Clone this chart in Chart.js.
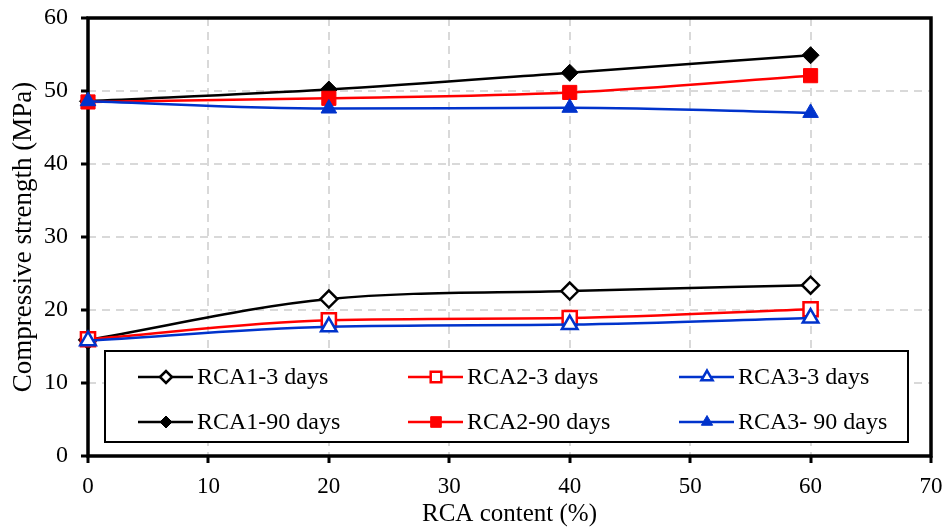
<!DOCTYPE html>
<html>
<head>
<meta charset="utf-8">
<script src="https://cdn.jsdelivr.net/npm/chart.js@4"></script>
<style>
  html, body { margin: 0; padding: 0; background: #fff; }
  #wrap { width: 946px; height: 529px; }
</style>
</head>
<body>
<div id="wrap"><canvas id="strength"></canvas></div>
<script>
  // RCA content (%) and compressive strength (MPa)
  const rcaContent = [0, 20, 40, 60];
  const rca1Day3  = [15.9, 21.5, 22.6, 23.4];
  const rca2Day3  = [16.0, 18.6, 18.9, 20.1];
  const rca3Day3  = [15.8, 17.7, 18.0, 18.9];
  const rca1Day90 = [48.6, 50.2, 52.5, 54.9];
  const rca2Day90 = [48.5, 49.0, 49.8, 52.1];
  const rca3Day90 = [48.6, 47.6, 47.7, 47.0];
  const xTicks = [0, 10, 20, 30, 40, 50, 60, 70];
  const yTicks = [0, 10, 20, 30, 40, 50, 60];

  const BLUE = '#0033cc';
  const FONT = "'Liberation Serif', 'Times New Roman', serif";

  function pts(vals) {
    return vals.map((v, i) => ({ x: rcaContent[i], y: v }));
  }

  function series(label, vals, color, style, open, radius, legendRadius, order) {
    return {
      label: label,
      data: pts(vals),
      order: order,
      borderColor: color,
      backgroundColor: open ? '#fff' : color,
      pointBackgroundColor: open ? '#fff' : color,
      pointBorderColor: color,
      pointStyle: style,
      pointRadius: radius,
      pointBorderWidth: open ? 2.5 : 1,
      legendRadius: legendRadius,
      borderWidth: 2.5,
      showLine: true,
      clip: false,
      cubicInterpolationMode: 'monotone'
    };
  }

  // legend: 3 columns x 2 rows in a white box inside the plot
  const boxLegend = {
    id: 'boxLegend',
    afterDraw(chart) {
      const ctx = chart.ctx;
      const x0 = 105, y0 = 351, w = 803, h = 91;
      ctx.save();
      ctx.fillStyle = '#fff';
      ctx.fillRect(x0, y0, w, h);
      ctx.strokeStyle = '#000';
      ctx.lineWidth = 2;
      ctx.strokeRect(x0, y0, w, h);
      const colX = [138, 408, 679];
      const rowY = [377, 422];
      chart.data.datasets.forEach((ds, i) => {
        const cx = colX[i % 3], cy = rowY[Math.floor(i / 3)];
        ctx.strokeStyle = ds.borderColor;
        ctx.lineWidth = 2.5;
        ctx.beginPath();
        ctx.moveTo(cx, cy);
        ctx.lineTo(cx + 55, cy);
        ctx.stroke();
        ctx.fillStyle = ds.pointBackgroundColor;
        ctx.strokeStyle = ds.pointBorderColor;
        ctx.lineWidth = ds.pointBorderWidth;
        Chart.helpers.drawPoint(ctx, {
          pointStyle: ds.pointStyle,
          radius: ds.legendRadius,
          rotation: 0,
          borderWidth: ds.pointBorderWidth
        }, cx + 28, cy);
        ctx.fillStyle = '#000';
        ctx.font = '24px ' + FONT;
        ctx.textBaseline = 'middle';
        ctx.textAlign = 'left';
        ctx.fillText(ds.label, cx + 59, cy + 1);
      });
      ctx.restore();
    }
  };

  // black frame round the plot area, under the markers
  const plotFrame = {
    id: 'plotFrame',
    beforeDatasetsDraw(chart) {
      const a = chart.chartArea;
      const ctx = chart.ctx;
      ctx.save();
      ctx.strokeStyle = '#000';
      ctx.lineWidth = 3.5;
      ctx.strokeRect(a.left, a.top, a.right - a.left, a.bottom - a.top);
      ctx.restore();
    }
  };

  new Chart(document.getElementById('strength'), {
    type: 'scatter',
    data: {
      datasets: [
        series('RCA1-3 days', rca1Day3, '#000', 'rectRot', true, 8.5, 6, 5),
        series('RCA2-3 days', rca2Day3, '#ff0000', 'rect', true, 10, 7.5, 4),
        series('RCA3-3 days', rca3Day3, BLUE, 'triangle', true, 9, 6.5, 3),
        series('RCA1-90 days', rca1Day90, '#000', 'rectRot', false, 8.5, 6, 2),
        series('RCA2-90 days', rca2Day90, '#ff0000', 'rect', false, 10, 7.5, 1),
        series('RCA3- 90 days', rca3Day90, BLUE, 'triangle', false, 9, 6.5, 0)
      ]
    },
    options: {
      responsive: true,
      maintainAspectRatio: false,
      animation: false,
      layout: { padding: { top: 0, right: 0, left: 0, bottom: 0 } },
      plugins: { legend: { display: false }, tooltip: { enabled: false } },
      scales: {
        x: {
          type: 'linear',
          min: 0, max: 70,
          afterBuildTicks: s => { s.ticks = xTicks.map(v => ({ value: v })); },
          afterFit: s => { s.height = 73; s.paddingRight = 15; },
          ticks: { color: '#000', font: { family: FONT, size: 23 }, padding: 10, maxRotation: 0 },
          grid: { color: '#d9d9d9', lineWidth: 2, tickColor: '#000', tickLength: 7, tickWidth: 3 },
          border: { display: false, dash: [8, 6] },
          title: { display: true, text: 'RCA content (%)', color: '#000', font: { family: FONT, size: 25 }, padding: { top: 0, bottom: 0 } }
        },
        y: {
          min: 0, max: 60,
          afterBuildTicks: s => { s.ticks = yTicks.map(v => ({ value: v })); },
          afterFit: s => { s.width = 88; s.paddingTop = 18; },
          ticks: { color: '#000', font: { family: FONT, size: 24 }, padding: 13 },
          grid: { color: '#d9d9d9', lineWidth: 2, tickColor: '#000', tickLength: 7, tickWidth: 3 },
          border: { display: false, dash: [8, 6] },
          title: { display: true, text: 'Compressive strength (MPa)', color: '#000', font: { family: FONT, size: 27 }, padding: { top: 8, bottom: 0 } }
        }
      }
    },
    plugins: [plotFrame, boxLegend]
  });
</script>
</body>
</html>
